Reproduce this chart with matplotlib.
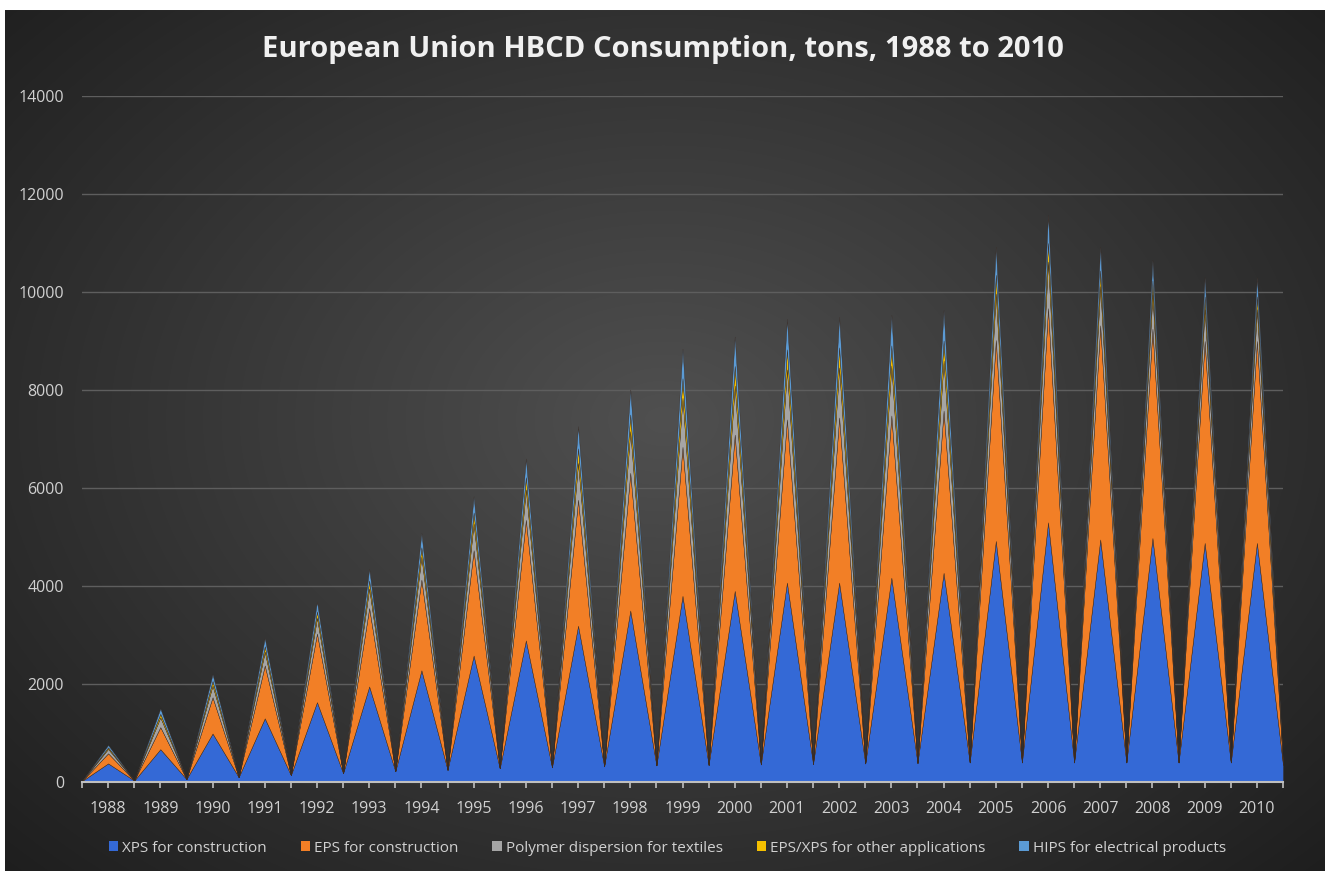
import numpy as np
import matplotlib
matplotlib.use('Agg')
import matplotlib.pyplot as plt
from matplotlib.patches import Patch

# consumption per year (tons) - values at the peaks
years = [str(y) for y in range(1988, 2011)]
xps_construction = [380, 670, 990, 1300, 1630, 1950, 2280, 2580, 2890, 3190, 3500, 3800,
                    3900, 4070, 4070, 4170, 4270, 4920, 5300, 4950, 4980, 4880, 4880]
eps_construction = [206, 450, 740, 1080, 1400, 1600, 1850, 2150, 2460, 2570, 2810, 3040,
                    3190, 3330, 3370, 3310, 3310, 4100, 4370, 4370, 4270, 4120, 4120]
polymer_textiles = [90, 200, 240, 280, 320, 400, 470, 550, 620, 750, 850, 1000,
                    1000, 1020, 1020, 1020, 1020, 950, 950, 800, 700, 650, 650]
eps_xps_other = [30, 70, 90, 110, 130, 160, 190, 220, 250, 300, 340, 400,
                 400, 410, 410, 410, 410, 380, 380, 320, 280, 260, 260]
hips_electrical = [50, 110, 140, 170, 200, 240, 290, 330, 380, 450, 510, 600,
                   600, 620, 620, 620, 620, 570, 570, 480, 420, 390, 390]

# values at the gaps between the years (24 boundaries), only XPS stays above zero
xps_gap = [20, 30, 60, 100, 140, 180, 220, 250, 280, 300, 320, 340,
           350, 360, 370, 380, 390, 400, 400, 400, 400, 400, 400, 350]

labels = ['XPS for construction', 'EPS for construction', 'Polymer dispersion for textiles',
          'EPS/XPS for other applications', 'HIPS for electrical products']
colors = ['#3469d6', '#f27f26', '#a5a5a5', '#f5c000', '#5b9bd5']


def interleave(peaks, gaps):
    out = np.zeros(2 * len(peaks) + 1)
    out[0::2] = gaps
    out[1::2] = peaks
    return out


n = len(years)
x = np.arange(2 * n + 1) * 0.5
zero_gap = [0] * (n + 1)
layers = [interleave(xps_construction, xps_gap),
          interleave(eps_construction, zero_gap),
          interleave(polymer_textiles, zero_gap),
          interleave(eps_xps_other, zero_gap),
          interleave(hips_electrical, zero_gap)]

W, H = 1325, 871
fig = plt.figure(figsize=(W / 100, H / 100), dpi=100)

# dark radial background with the white strips at top and left
bg = fig.add_axes([0, 0, 1, 1], zorder=-10)
yy, xx = np.mgrid[0:H, 0:W]
r = np.sqrt(((xx - 663) / 663.0) ** 2 + ((yy - 420) / 470.0) ** 2)
shade = np.clip(80 - 36 * r, 28, 80) / 255.0
img = np.dstack([shade, shade, shade])
img[:11, :, :] = 1.0
img[:, :5, :] = 1.0
bg.imshow(img, extent=[0, 1, 0, 1], aspect='auto', interpolation='bilinear')
bg.axis('off')

ax = fig.add_axes([82 / W, 1 - 782 / H, (1283 - 82) / W, (782 - 96) / H])
ax.set_facecolor('none')
ax.stackplot(x, *layers, colors=colors, linewidth=0.3, edgecolor='#3a2a20', zorder=3)

ax.set_xlim(0, n)
ax.set_ylim(0, 14000)
ax.set_yticks(np.arange(0, 14001, 2000))
ax.grid(axis='y', color='#5e5e5e', linewidth=1, zorder=0)
ax.set_xticks(np.arange(n) + 0.5)
ax.set_xticklabels(years)
ax.set_xticks(np.arange(n + 1), minor=True)

for s in ['top', 'right', 'left']:
    ax.spines[s].set_visible(False)
ax.spines['bottom'].set_color('#bfbfbf')
ax.spines['bottom'].set_linewidth(1.5)
ax.spines['bottom'].set_zorder(5)

ax.tick_params(axis='x', which='both', direction='out', length=4, width=1.2,
               color='#bfbfbf', labelcolor='#d0d0d0', labelsize=11.5, pad=10)
ax.tick_params(axis='y', length=0, labelcolor='#d0d0d0', labelsize=11.5, pad=13)
for t in ax.get_xticklabels() + ax.get_yticklabels():
    t.set_family('Open Sans')

fig.text(0.5, 1 - 50 / H, 'European Union HBCD Consumption, tons, 1988 to 2010',
         ha='center', va='center', color='#f0f0f0', fontsize=21, fontweight='bold',
         family='Open Sans')

handles = [Patch(facecolor=c, edgecolor='none') for c in colors]
leg = fig.legend(handles, labels, loc='center', bbox_to_anchor=(667.5 / W, 23 / H), ncol=5,
                 frameon=False, handlelength=0.6, handleheight=0.6, handletextpad=0.3,
                 columnspacing=2.2, prop={'family': 'Open Sans', 'size': 11})
for t in leg.get_texts():
    t.set_color('#d0d0d0')

fig.savefig('out.png', dpi=100)
